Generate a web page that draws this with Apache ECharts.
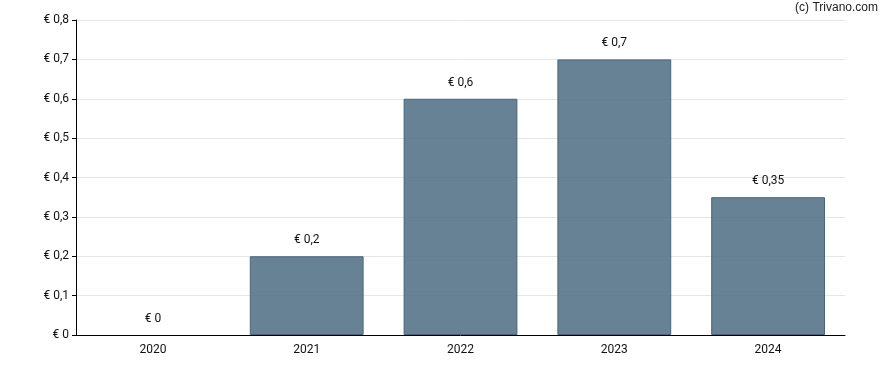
<!DOCTYPE html>
<html>
<head>
<meta charset="utf-8">
<script src="https://cdn.jsdelivr.net/npm/echarts@6/dist/echarts.min.js"></script>
<style>html,body{margin:0;padding:0;background:#fff}#c{width:888px;height:370px}</style>
</head>
<body>
<div id="c"></div>
<script>
const categories = ['2020', '2021', '2022', '2023', '2024'];
const values = [0, 0.2, 0.6, 0.7, 0.35];
const yTicks = [0, 0.1, 0.2, 0.3, 0.4, 0.5, 0.6, 0.7, 0.8];

const fmt = v => '€ ' + String(Math.round(v * 100) / 100).replace('.', ',');
const chart = echarts.init(document.getElementById('c'));
chart.setOption({
  animation: false,
  textStyle: { fontFamily: 'Roboto' },
  graphic: [{
    type: 'text', right: 10, top: 2,
    style: { text: '(c) Trivano.com', font: '12px "Liberation Sans", Arial', fill: '#222' }
  }],
  grid: { left: 76, right: 43, top: 20, bottom: 35 },
  xAxis: {
    type: 'category', data: categories,
    axisLine: { lineStyle: { color: '#000', width: 1 } },
    axisTick: { alignWithLabel: true, length: 4, lineStyle: { color: '#000' } },
    axisLabel: { color: '#111', fontSize: 12, margin: 9 }
  },
  yAxis: {
    type: 'value', min: yTicks[0], max: yTicks[yTicks.length - 1], interval: 0.1,
    axisLine: { show: true, lineStyle: { color: '#000', width: 1 } },
    axisTick: { show: true, length: 4, lineStyle: { color: '#000' } },
    axisLabel: { color: '#111', fontSize: 12, margin: 7, formatter: fmt },
    splitLine: { lineStyle: { color: '#e6e6e6' } }
  },
  series: [{
    type: 'bar',
    data: values.map(v => v === 0 ? { value: v, itemStyle: { borderWidth: 0 } } : v),
    barWidth: '74%',
    itemStyle: { color: 'rgba(80,111,133,0.87)', borderColor: '#4a6579', borderWidth: 1 },
    label: { show: true, position: 'top', distance: 10, color: '#111', fontSize: 12, formatter: p => fmt(p.value) }
  }]
});
</script>
</body>
</html>
